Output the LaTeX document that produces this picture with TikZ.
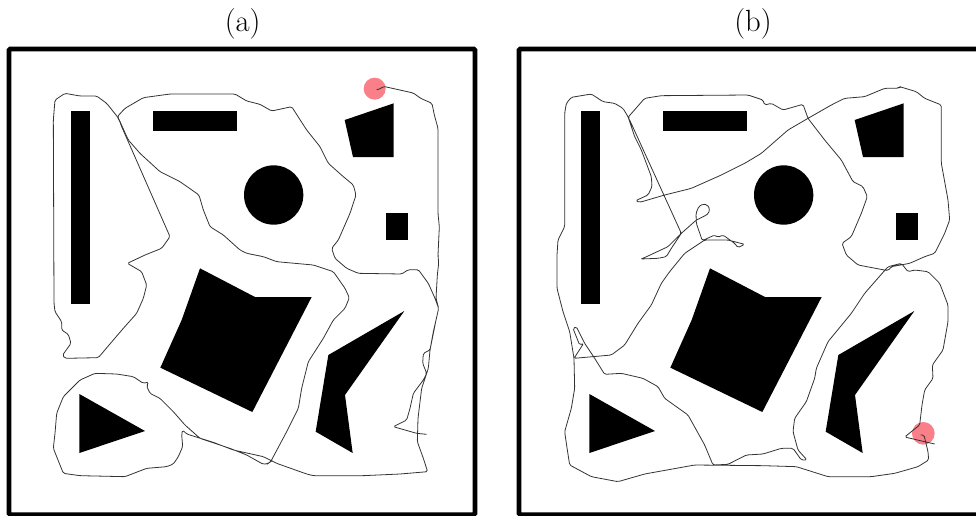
\documentclass[tikz,border=0pt]{standalone}
\usetikzlibrary{positioning}

\definecolor{goalred}{HTML}{F98088}

\tikzset{
  wall/.style={draw=black, line width=3.6pt, rounded corners=1pt},
  block/.style={fill=black},
  goal/.style={fill=goalred},
  trace/.style={draw=black!80, line width=0.6pt, rounded corners=1.2pt},
  tag/.style={font=\fontsize{23}{27}\selectfont, inner sep=0pt},
  arena/.pic={
    \draw[wall] (27,147) rectangle (1425,1544);
    \fill[block] (213,332) rectangle (270,913);
    \fill[block] (460,332) rectangle (710,393);
    \fill[block] (821,585) circle (89);
    \fill[block] (1034,360) -- (1181,310) -- (1181,471) -- (1059,471) -- cycle;
    \fill[block] (1157,640) rectangle (1223,720);
    \fill[block] (600,805) -- (765,891) -- (935,891) -- (757,1236) -- (481,1103) -- (545,960) -- cycle;
    \fill[block] (1213,933) -- (985,1065) -- (947,1295) -- (1058,1359) -- (1035,1185) -- cycle;
    \fill[block] (238,1182) -- (435,1293) -- (238,1359) -- cycle;
  },
}

\begin{document}
\begin{tikzpicture}[x=0.25pt, y=-0.25pt]
  \clip (0,0) rectangle (2928,1545);

  \pic at (0,0) {arena};
  \pic at (1530,0) {arena};

  \node[tag] (taga) at (728,72) {(a)};
  \node[tag] (tagb) at (2259,72) {(b)};

  \fill[goal] (1124,266) circle (33);
  \fill[goal] (2770,1300) circle (34);

  % first run
  \draw[trace] (1130,269) -- (1142,266) -- (1150,259) -- (1240,279) -- (1262,295) -- (1296,310) -- (1303,345) -- (1314,385) -- (1314,640) -- (1318,680) -- (1314,765) -- (1316,790) -- (1312,825) -- (1308,895) -- (1316,925) -- (1300,995) -- (1290,1050) -- (1285,1105) -- (1265,1165) -- (1254,1255) -- (1252,1325) -- (1270,1375) -- (1283,1415) -- (1200,1422) -- (1090,1427) -- (940,1427) -- (920,1422) -- (830,1390) -- (790,1370) -- (700,1350) -- (640,1327) -- (560,1302) -- (548,1290) -- (545,1303) -- (548,1340) -- (535,1370) -- (520,1392) -- (500,1400) -- (440,1405) -- (375,1430) -- (240,1427) -- (190,1420) -- (178,1390) -- (160,1345) -- (165,1300) -- (170,1240) -- (190,1190) -- (240,1140) -- (285,1120) -- (350,1122) -- (400,1130) -- (430,1150) -- (446,1146) -- (440,1158) -- (450,1180) -- (480,1195) -- (520,1235) -- (555,1275) -- (600,1315) -- (690,1345) -- (740,1365) -- (790,1393) -- (805,1390) -- (812,1385) -- (860,1295) -- (895,1225) -- (905,1165) -- (925,1085) -- (970,1015) -- (1000,960) -- (1035,925) -- (1048,893) -- (1035,865) -- (1000,815) -- (940,795) -- (830,785) -- (790,770) -- (740,760) -- (720,750) -- (670,705) -- (630,680) -- (610,630) -- (597,585) -- (540,545) -- (480,515) -- (420,460) -- (385,420) -- (360,365) -- (352,350) -- (375,325) -- (430,293) -- (510,282) -- (705,282) -- (740,303) -- (780,313) -- (815,333) -- (875,320) -- (920,390) -- (960,440) -- (985,490) -- (1030,530) -- (1060,555) -- (1068,585) -- (1050,640) -- (1015,720) -- (995,745) -- (1005,775) -- (1040,805) -- (1075,820) -- (1205,822) -- (1225,809) -- (1255,809) -- (1285,850) -- (1305,895) -- (1316,925) -- (1308,960) -- (1295,1025) -- (1290,1050) -- (1270,1060) -- (1268,1090) -- (1280,1120) -- (1270,1140) -- (1240,1180) -- (1230,1225) -- (1220,1260) -- (1180,1280) -- (1250,1300) -- (1280,1303);
  \draw[trace] (352,350) -- (358,360) -- (365,380) -- (510,710) -- (485,745) -- (435,765) -- (382,790) -- (425,815) -- (440,855) -- (430,895) -- (410,940) -- (370,985) -- (340,1020) -- (295,1073) -- (195,1075) -- (188,1065) -- (213,1030) -- (205,1003) -- (185,990) -- (185,965) -- (165,935) -- (162,910) -- (160,360) -- (165,300) -- (195,280) -- (240,288) -- (290,288) -- (320,310) -- (352,350);

  % second run
  \begin{scope}[xshift=366pt]
    \draw[trace] (1340,1332) -- (1250,1311) -- (1295,1275) -- (1302,1215) -- (1310,1170) -- (1335,1135) -- (1333,1095) -- (1365,1050) -- (1380,965) -- (1380,915) -- (1355,850) -- (1320,815) -- (1280,810) -- (1260,815) -- (1240,790) -- (1200,800) -- (1130,880) -- (1090,940) -- (1020,1025) -- (985,1105) -- (980,1135) -- (955,1205) -- (920,1255) -- (915,1295) -- (930,1350) -- (957,1380) -- (940,1380) -- (915,1345) -- (880,1345) -- (825,1362) -- (775,1365) -- (720,1393) -- (675,1395) -- (650,1335) -- (600,1245) -- (530,1195) -- (510,1160) -- (465,1135) -- (400,1120) -- (350,1123) -- (320,1075) -- (290,1030) -- (265,980) -- (255,985) -- (275,1035) -- (287,1030) -- (258,1075) -- (370,1065) -- (410,1035) -- (450,970) -- (490,915) -- (520,850) -- (545,815) -- (590,760) -- (650,720) -- (720,720) -- (770,733) -- (750,743) -- (740,730) -- (705,705) -- (690,712) -- (680,705) -- (643,722) -- (625,670) -- (624,640) -- (632,620) -- (645,612) -- (658,615) -- (665,625) -- (662,640) -- (650,648) -- (625,660) -- (580,700) -- (540,740) -- (465,775) -- (457,777) -- (510,775) -- (535,770) -- (550,745) -- (580,700) -- (425,360) -- (420,352) -- (470,295) -- (520,287) -- (780,285) -- (825,300) -- (830,315) -- (850,310) -- (885,330) -- (945,313) -- (960,355) -- (1010,420) -- (1060,480) -- (1095,545) -- (1125,560) -- (1138,590) -- (1120,640) -- (1090,710) -- (1062,730) -- (1075,765) -- (1110,795) -- (1200,812) -- (1210,800) -- (1265,790) -- (1310,770) -- (1340,760) -- (1370,700) -- (1385,660) -- (1380,600) -- (1360,490) -- (1360,315) -- (1310,295) -- (1285,275) -- (1235,260) -- (1230,265) -- (1190,265) -- (1130,290) -- (1070,295) -- (1030,315) -- (960,355) -- (900,390) -- (860,425) -- (820,460) -- (770,490) -- (700,525) -- (610,565) -- (530,585) -- (455,607) -- (443,602) -- (480,585) -- (492,560) -- (490,530) -- (460,450) -- (440,410) -- (420,350) -- (405,325) -- (380,310) -- (345,305) -- (310,282) -- (250,292) -- (235,310) -- (230,340) -- (230,680) -- (210,720) -- (207,765) -- (207,865) -- (225,935) -- (245,995) -- (258,1075) -- (260,1165) -- (250,1225) -- (230,1295) -- (235,1330) -- (245,1395) -- (310,1430) -- (390,1445) -- (470,1422) -- (620,1395) -- (825,1397) -- (925,1400) -- (1020,1430) -- (1150,1430) -- (1220,1420) -- (1290,1400) -- (1322,1380) -- (1320,1355) -- (1308,1305) -- (1298,1305);
  \end{scope}
\end{tikzpicture}
\end{document}
